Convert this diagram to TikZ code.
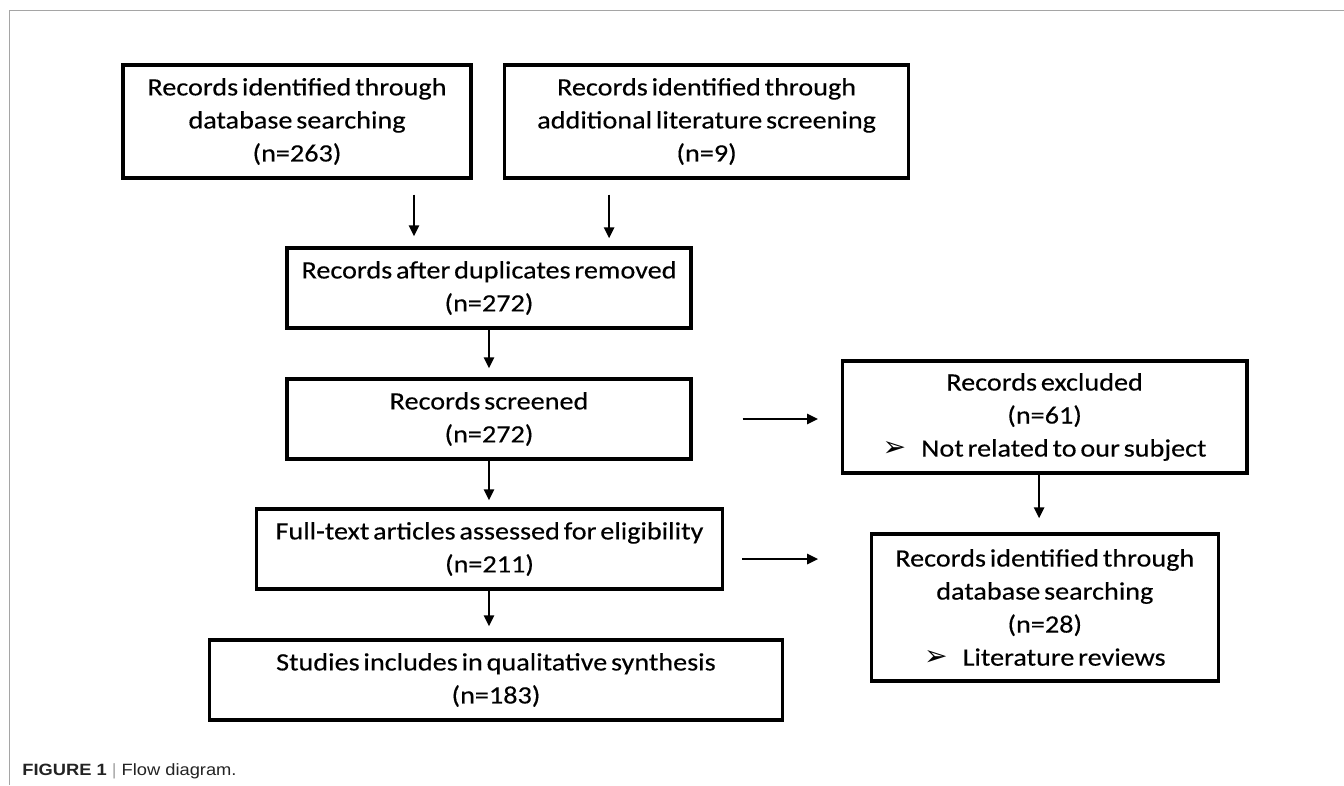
\documentclass[tikz,border=0pt]{standalone}
\usepackage{fontspec}
\usepackage{tikz}
\usetikzlibrary{positioning,arrows.meta,calc}
\newfontfamily\boxfont{Carlito}[FakeStretch=1.13, FakeBold=0.3, WordSpace=0.6]
\newfontfamily\capfont{Liberation Sans}[FakeStretch=1.12]
\newfontfamily\symfont{DejaVu Sans}
\definecolor{fdFrame}{RGB}{165,165,165}
\definecolor{fdCap}{RGB}{35,35,35}
\newcommand{\bul}{{\symfont\fontsize{16pt}{16pt}\selectfont ➢}\hspace{0.3cm}}
\tikzset{
    base/.style={font=\boxfont\fontsize{14.2pt}{18.8pt}\selectfont, align=center},
    stage/.style={base, rectangle, draw=black, line width=0.065cm, fill=white,
                  inner sep=1mm, minimum height=1.6cm},
    flow/.style={-{Triangle[length=0.22cm, width=0.2cm]}, line width=0.05cm, black},
    frame/.style={fdFrame, line width=0.02cm}
}
\begin{document}
\begin{tikzpicture}[x=0.02cm, y=-0.02cm]
  \useasboundingbox (0,0) rectangle (1344,785);
  % page frame
  \draw[frame] (9,785) -- (9,10) -- (1344,10);

  % identification
  \node[stage, minimum width=6.96cm, minimum height=2.26cm] (ident) at (297,121.5)
    {Records identified through\\ database searching\\ (n=263)};
  \node[stage, minimum width=8.08cm, minimum height=2.26cm] (extra) at (706.6,121.5)
    {Records identified through\\ additional literature screening\\ (n=9)};

  % screening
  \node[stage, minimum width=8.08cm] (dedup) at (489,288)
    {Records after duplicates removed\\ (n=272)};
  \node[stage, minimum width=8.08cm] (screen) at (489,419)
    {Records screened\\ (n=272)};
  \node[stage, minimum width=9.32cm] (full) at (489.5,549)
    {Full-text articles assessed for eligibility\\ (n=211)};
  \node[stage, minimum width=11.46cm] (incl) at (496,680)
    {Studies includes in qualitative synthesis\\ (n=183)};

  % exclusions
  \node[stage, minimum width=8.1cm, minimum height=2.24cm] (excl) at (1044.6,417)
    {Records excluded\\ (n=61)\\ \bul Not related to our subject};
  \node[stage, minimum width=6.94cm, minimum height=2.94cm] (rev) at (1044.8,607.5)
    {Records identified through\\ database searching\\ (n=28)\\ \bul Literature reviews};

  % arrows
  \draw[flow, shorten <=0.3cm, shorten >=0.2cm]
    ([xshift=2.34cm]ident.south) -- ([xshift=2.34cm]ident.south |- dedup.north);
  \draw[flow, shorten <=0.3cm, shorten >=0.16cm]
    ([xshift=-1.95cm]extra.south) -- ([xshift=-1.95cm]extra.south |- dedup.north);
  \draw[flow, shorten >=0.18cm] (dedup) -- (screen);
  \draw[flow, shorten >=0.14cm] (screen.south) -- (screen.south |- full.north);
  \draw[flow, shorten >=0.24cm] (screen.south |- full.south) -- (screen.south |- incl.north);
  \draw[flow, shorten <=1cm, shorten >=0.45cm] (screen.east) -- (screen.east -| excl.west);
  \draw[flow, shorten >=0.28cm]
    ([xshift=-0.11cm]excl.south) -- ([xshift=-0.11cm]excl.south |- rev.north);
  \draw[flow, shorten <=0.36cm, shorten >=1.03cm]
    ([yshift=-0.2cm]full.east) -- ([yshift=-0.2cm]full.east -| rev.west);

  % caption
  \node[anchor=base west, inner sep=0pt, text=fdCap,
        font=\capfont\fontsize{9.3pt}{11pt}\selectfont] (cap) at (22,775)
    {\textbf{FIGURE 1} {\color{fdFrame}|} Flow diagram.};
\end{tikzpicture}
\end{document}
